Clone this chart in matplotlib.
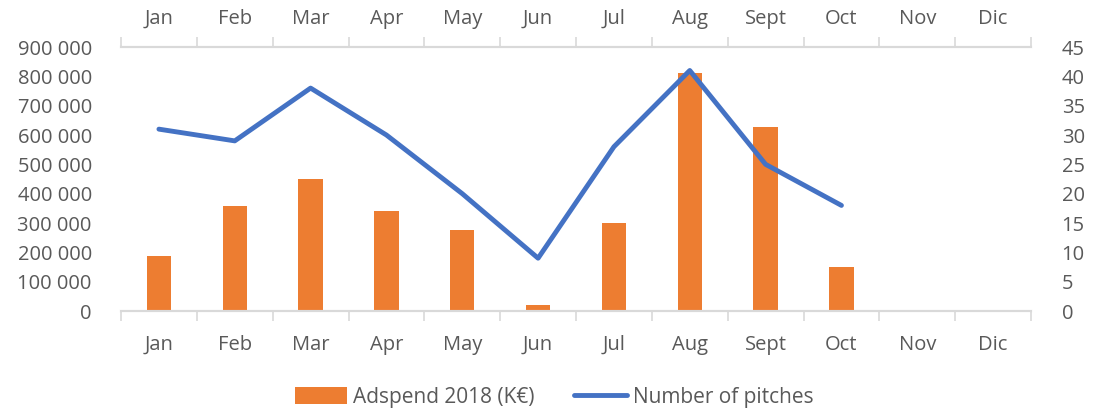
import matplotlib.pyplot as plt
from matplotlib.ticker import FuncFormatter, FixedLocator

months = ['Jan', 'Feb', 'Mar', 'Apr', 'May', 'Jun', 'Jul', 'Aug', 'Sept', 'Oct', 'Nov', 'Dic']
adspend = [187000, 357000, 451000, 341000, 277000, 22000, 300000, 810000, 627000, 150000, None, None]
pitches = [31, 29, 38, 30, 20, 9, 28, 41, 25, 18, None, None]

orange = '#ED7D31'
blue = '#4472C4'
grey = '#D9D9D9'
text_col = '#595959'

plt.rcParams['font.family'] = ['Open Sans', 'DejaVu Sans']
plt.rcParams['font.size'] = 14.5

fig = plt.figure(figsize=(11.04, 4.11), dpi=100)
ax = fig.add_axes([0.1096, 0.2433, 0.8243, 0.6423])
ax2 = ax.twinx()

x = list(range(len(months)))
bar_x = [i for i, v in enumerate(adspend) if v is not None]
bar_v = [v for v in adspend if v is not None]
ax.bar(bar_x, bar_v, width=0.32, color=orange, label='Adspend 2018 (K€)', zorder=2)

line_x = [i for i, v in enumerate(pitches) if v is not None]
line_v = [v for v in pitches if v is not None]
ax2.plot(line_x, line_v, color=blue, lw=3.5, solid_capstyle='round',
         solid_joinstyle='round', label='Number of pitches', zorder=3)

ax.set_xlim(-0.5, len(months) - 0.5)
ax.set_ylim(0, 900000)
ax2.set_ylim(0, 45)
ax.set_yticks(range(0, 900001, 100000))
ax2.set_yticks(range(0, 46, 5))
ax.yaxis.set_major_formatter(FuncFormatter(lambda v, p: f"{int(v):,}".replace(',', ' ')))

# boundary ticks (major) and centered labels (minor) on the bottom
bounds = [i - 0.5 for i in range(len(months) + 1)]
ax.xaxis.set_major_locator(FixedLocator(bounds))
ax.xaxis.set_minor_locator(FixedLocator(x))
ax.set_xticklabels([], minor=False)
ax.set_xticklabels(months, minor=True)
ax.tick_params(axis='x', which='major', top=True, bottom=True, direction='out',
               length=7, width=1.2, color=grey, labelbottom=False, labeltop=False)
ax.tick_params(axis='x', which='minor', bottom=True, top=False, length=0,
               labelbottom=True, pad=17, labelcolor=text_col)

# same labels on top
top = ax.secondary_xaxis('top')
top.xaxis.set_major_locator(FixedLocator(x))
top.set_xticklabels(months)
top.tick_params(length=0, pad=13, labelcolor=text_col)
top.spines['top'].set_visible(False)

ax.tick_params(axis='y', length=0, pad=21, labelcolor=text_col)
ax2.tick_params(axis='y', length=0, pad=22, labelcolor=text_col)

for a in (ax, ax2):
    for s in ('left', 'right'):
        a.spines[s].set_visible(False)
    for s in ('top', 'bottom'):
        a.spines[s].set_color(grey)
        a.spines[s].set_linewidth(1.5)

h1, l1 = ax.get_legend_handles_labels()
h2, l2 = ax2.get_legend_handles_labels()
fig.legend(h1 + h2, l1 + l2, loc='lower center', bbox_to_anchor=(0.502, -0.038), ncol=2,
           frameon=False, fontsize=15, handlelength=2.5, handleheight=0.9, handletextpad=0.3,
           columnspacing=1.9, labelcolor=text_col)

fig.savefig('out.png', dpi=100)
